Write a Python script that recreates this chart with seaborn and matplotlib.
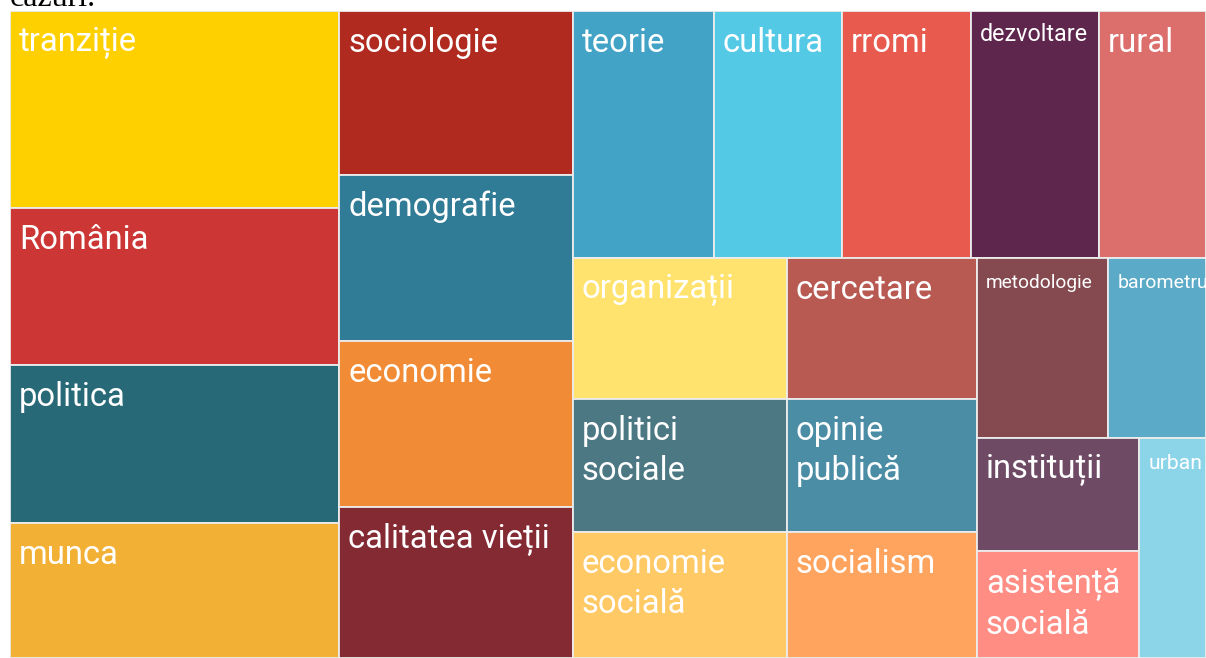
import matplotlib
matplotlib.use("Agg")
import matplotlib.pyplot as plt
import seaborn as sns
from matplotlib.patches import Rectangle

# ---- data -------------------------------------------------------------
labels = ["tranziție", "România", "politica", "munca",
          "sociologie", "demografie", "economie", "calitatea vieții",
          "teorie", "cultura", "rromi", "dezvoltare", "rural",
          "organizații", "politici\nsociale", "economie\nsocială",
          "cercetare", "opinie\npublică", "socialism",
          "metodologie", "barometru", "instituții", "asistență\nsocială", "urban"]
values = [650, 517, 519, 446,
          382, 386, 388, 352,
          348, 317, 317, 317, 264,
          303, 285, 270,
          269, 253, 239,
          236, 176, 185, 173, 147]
colors = ["#FFD000", "#CC3634", "#286978", "#F2B035",
          "#B02A20", "#307B96", "#F28B35", "#832A33",
          "#42A3C6", "#53C9E6", "#E8594E", "#5E264D", "#DC6E6B",
          "#FFE36E", "#4C7883", "#FFC966",
          "#B85A52", "#4A8DA5", "#FFA45E",
          "#844A50", "#5BAAC8", "#6E4A64", "#FF8D84", "#8CD5E9"]
label_sizes = [23.6, 23.6, 23.6, 23.6,
               23.6, 23.6, 23.6, 23.6,
               23.6, 23.6, 23.6, 16.8, 23.6,
               23.6, 23.6, 23.6,
               23.6, 23.6, 23.6,
               13.8, 14.0, 23.6, 23.6, 15.2]

# nested slice layout ("h" = side by side, "v" = stacked), leaves are label indices
layout = ("h", [
    ("v", [0, 1, 2, 3]),
    ("v", [4, 5, 6, 7]),
    ("v", [
        ("h", [8, 9, 10, 11, 12]),
        ("h", [
            ("h", [("v", [13, 14, 15]), ("v", [16, 17, 18])]),
            ("v", [("h", [19, 20]), ("h", [("v", [21, 22]), 23])]),
        ]),
    ]),
])


def total(node):
    if isinstance(node, int):
        return values[node]
    return sum(total(k) for k in node[1])


def place(node, x, y, w, h, out):
    if isinstance(node, int):
        out[node] = (x, y, w, h)
        return
    orient, kids = node
    S = total(node)
    pos = 0.0
    for k in kids:
        f = total(k) / S
        if orient == "h":
            place(k, x + pos * w, y, w * f, h, out)
        else:
            place(k, x, y + pos * h, w, h * f, out)
        pos += f


rects = {}
place(layout, 0.0, 0.0, 1.0, 1.0, rects)

# ---- drawing ----------------------------------------------------------
sns.set_theme(style="white")
plt.rcParams["font.family"] = ["Roboto", "DejaVu Sans"]
palette = sns.color_palette(colors)

W, H = 1206, 658
fig = plt.figure(figsize=(W / 100, H / 100), dpi=100)
fig.patch.set_facecolor("white")

fig.text(10 / W, 1 - 6 / H, "cazuri.", family=["Liberation Serif", "DejaVu Serif"],
         fontsize=23, color="black", ha="left", va="baseline")

ax = fig.add_axes([10 / W, 0, 1196 / W, 647 / H])
ax.set_xlim(0, 1)
ax.set_ylim(1, 0)
ax.axis("off")

for i, lab in enumerate(labels):
    x, y, w, h = rects[i]
    r = Rectangle((x, y), w, h, facecolor=palette[i], edgecolor="#ececec",
                  linewidth=1.3)
    ax.add_patch(r)
    fs = label_sizes[i]
    if fs > 20:
        dy = -16
    elif fs > 16:
        dy = -12
    else:
        dy = -16
    t = ax.annotate(lab, xy=(x, y), xycoords="data", xytext=(9, dy),
                    textcoords="offset pixels", ha="left", va="top",
                    fontsize=fs, color="white", linespacing=1.33,
                    annotation_clip=False)
    t.set_clip_path(r)

fig.savefig("out.png", dpi=100, facecolor="white")
